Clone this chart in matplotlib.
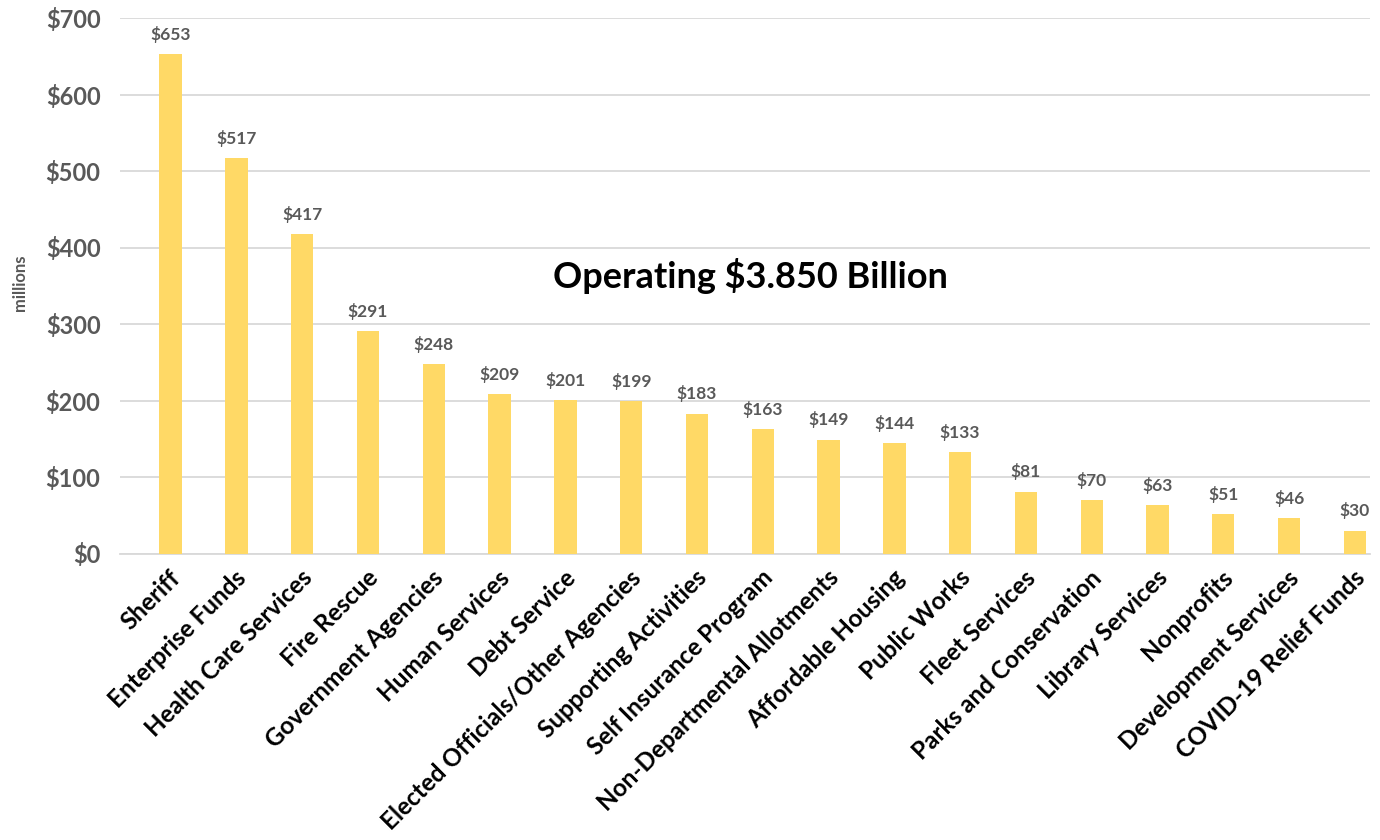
import matplotlib
matplotlib.use("Agg")
import matplotlib.pyplot as plt
from matplotlib.transforms import ScaledTranslation

categories = [
    "Sheriff", "Enterprise Funds", "Health Care Services", "Fire Rescue",
    "Government Agencies", "Human Services", "Debt Service",
    "Elected Officials/Other Agencies", "Supporting Activities",
    "Self Insurance Program", "Non-Departmental Allotments",
    "Affordable Housing", "Public Works", "Fleet Services",
    "Parks and Conservation", "Library Services", "Nonprofits",
    "Development Services", "COVID-19 Relief Funds",
]
values = [653, 517, 417, 291, 248, 209, 201, 199, 183, 163, 149, 144, 133,
          81, 70, 63, 51, 46, 30]
y_ticks = [0, 100, 200, 300, 400, 500, 600, 700]
title_text = "Operating $3.850 Billion"

plt.rcParams["font.family"] = ["Lato", "DejaVu Sans"]
plt.rcParams["font.weight"] = "bold"

fig = plt.figure(figsize=(13.8, 8.4), dpi=100)
ax = fig.add_axes([120 / 1380, 1 - 553.5 / 840, 1250 / 1380, 535.5 / 840])

x = list(range(len(categories)))
ax.bar(x, values, width=0.34, color="#FFD966", zorder=3)

for xi, v in zip(x, values):
    ax.annotate(f"${v}", (xi, v), xytext=(0, 8), textcoords="offset points",
                ha="center", va="bottom", fontsize=12.5, fontweight="bold",
                color="#595959")

ax.set_ylim(0, 700)
ax.set_xlim(-0.77, len(categories) - 0.77)
ax.set_yticks(y_ticks)
ax.set_yticklabels([f"${t}" for t in y_ticks], fontsize=17, fontweight="bold",
                   color="#595959")
ax.yaxis.grid(True, color="#D9D9D9", linewidth=1.3, zorder=0)
ax.set_axisbelow(True)
ax.tick_params(axis="both", length=0)
ax.tick_params(axis="y", pad=14)
ax.tick_params(axis="x", pad=9)

ax.set_xticks(x)
ax.set_xticklabels(categories, rotation=45, ha="right", va="top",
                   rotation_mode="anchor", fontsize=17.5, fontweight="bold",
                   color="black")
for lbl in ax.get_xticklabels():
    lbl.set_transform(lbl.get_transform() +
                      ScaledTranslation(-2 / 100, 0, fig.dpi_scale_trans))

for side in ("top", "right", "left"):
    ax.spines[side].set_visible(False)
ax.spines["bottom"].set_color("#D9D9D9")
ax.spines["bottom"].set_linewidth(1.3)

fig.text(20 / 1380, 1 - 283 / 840, "millions", rotation=90, ha="center",
         va="center", fontsize=12, fontweight="bold", color="#595959")

ax.text(8.82, 363, title_text, ha="center", va="center", fontsize=26,
        fontweight="bold", color="black")

fig.savefig("out.png", dpi=100, facecolor="white")
